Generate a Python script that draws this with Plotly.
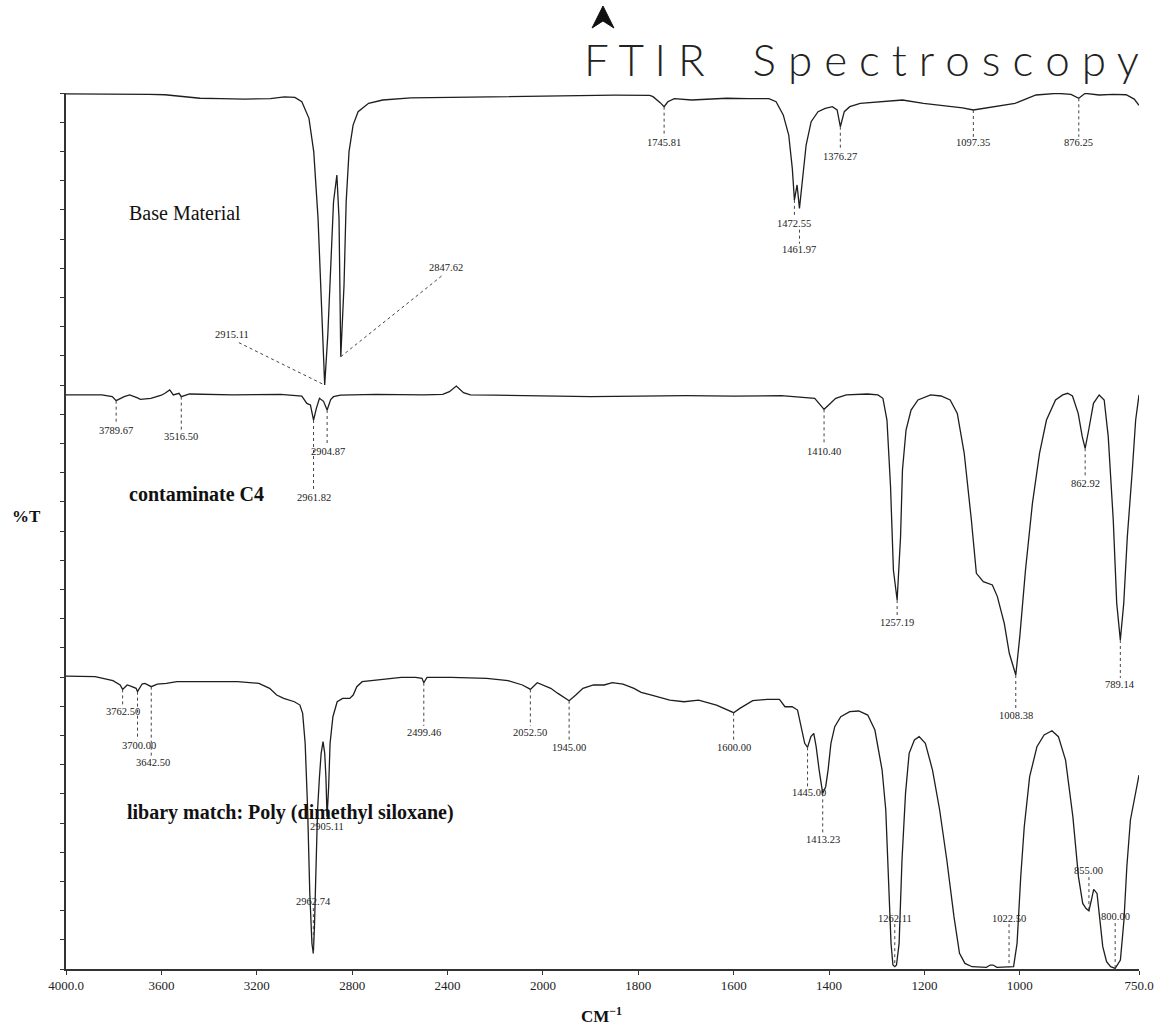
import numpy as np
import plotly.graph_objects as go


# Wavenumber axis: 4000-2000 cm-1 is drawn at half the scale of 2000-750 cm-1
def axis_pos(w):
    w = np.asarray(w, dtype=float)
    return np.where(w >= 2000, 4000 - w, 2000 + 2 * (2000 - w))


X_TICKS = [4000, 3600, 3200, 2800, 2400, 2000, 1800, 1600, 1400, 1200, 1000, 750]
X_TICK_TEXT = ["4000.0", "3600", "3200", "2800", "2400", "2000",
               "1800", "1600", "1400", "1200", "1000", "750.0"]

# ---- Base Material (offset trace, top) ----
base_wn = [4000, 3800, 3650, 3585, 3520, 3438, 3350, 3250, 3143, 3084, 3040, 3011,
           2981, 2961, 2943, 2928, 2915.11, 2902, 2893, 2878, 2864, 2855, 2847.62,
           2834, 2825, 2813, 2796, 2775, 2731, 2672, 2554, 2400, 2260, 2100, 1982,
           1850, 1776, 1769, 1754, 1745.81, 1738, 1724.5, 1688, 1650, 1614.5, 1570,
           1526, 1511, 1496, 1484.5, 1477, 1472.55, 1467, 1461.97, 1455, 1448,
           1437.5, 1423, 1408, 1393, 1383, 1376.27, 1368, 1356.5, 1334.5, 1290,
           1246, 1202, 1172.5, 1143, 1120, 1097.35, 1054.5, 1010, 966, 922, 892.5,
           876.25, 863, 833.5, 804, 777, 760, 750]
base_t = [99.9, 99.9, 99.85, 99.8, 99.6, 99.4, 99.35, 99.3, 99.35, 99.55, 99.5, 99.0,
          97.11, 93.3, 85.69, 76.18, 66.66, 72.4, 78.08, 87.59, 90.64, 85.69, 69.9,
          78.08, 87.59, 93.3, 96.34, 97.87, 98.82, 99.2, 99.45, 99.5, 99.58, 99.65, 99.7,
          99.75, 99.72, 99.58, 98.9, 98.44, 99.0, 99.35, 99.2, 99.3, 99.4, 99.35,
          99.35, 99.0, 97.5, 95.2, 91.4, 87.8, 89.5, 86.83, 90.26, 94.06,
          96.72, 97.87, 98.25, 98.44, 98.06, 96.15, 97.87, 98.44, 98.82, 99.01,
          99.2, 98.82, 98.63, 98.44, 98.3, 98.06, 98.44, 98.82, 99.77, 99.96, 99.85,
          99.39, 99.96, 99.77, 99.85, 99.8, 99.3, 98.6]

# ---- contaminate C4 (offset trace, middle) ----
cont_wn = [4000, 3850, 3806, 3789.67, 3756, 3733, 3700, 3688, 3644, 3600, 3585, 3565,
           3550, 3526, 3516.5, 3482, 3300, 3100, 3011, 2990, 2975, 2968, 2961.82,
           2950, 2937, 2920, 2904.87, 2890, 2878, 2849, 2700, 2500, 2420, 2392, 2363,
           2333, 2304, 2200, 2000, 1900, 1800, 1700, 1600, 1500, 1430, 1415.5,
           1410.4, 1400.7, 1386, 1364, 1319.5, 1297.5, 1287, 1278.5, 1271, 1265,
           1257.19, 1250, 1246, 1238.5, 1228, 1213.5, 1187, 1165, 1146, 1131,
           1116.5, 1101.5, 1091, 1076.5, 1057.5, 1047, 1032.5, 1022, 1008.38, 1000,
           988, 973.5, 958.6, 944, 925, 910, 899.7, 889.5, 877.5, 869, 862.92,
           855.5, 845.5, 833.5, 823, 814.5, 804, 796.7, 789.14, 782, 774.5, 764,
           757, 750]
cont_t = [65.53, 65.53, 65.34, 64.88, 65.34, 65.53, 65.2, 65.03, 65.15, 65.5, 65.72, 66.1,
          65.53, 65.72, 65.34, 65.64, 65.53, 65.6, 65.41, 64.57, 64.4, 63.5, 62.67,
          64.0, 65.15, 64.8, 63.81, 65.0, 65.33, 65.52, 65.6, 65.55, 65.6, 65.91, 66.55,
          65.79, 65.53, 65.5, 65.4, 65.35, 65.4, 65.45, 65.4, 65.45, 65.15, 64.19,
          63.89, 64.38, 65.15, 65.53, 65.64, 65.53, 65.15, 62.67, 55.06, 45.55,
          42.12, 49.35, 56.96, 61.53, 63.81, 64.96, 65.53, 65.41, 64.96, 63.43,
          58.87, 51.26, 45.17, 44.22, 43.84, 42.51, 39.46, 36.04, 33.56, 37.94,
          45.55, 53.16, 58.87, 62.67, 64.96, 65.53, 65.72, 65.41, 63.43, 60.77, 59.44,
          61.53, 64.57, 65.53, 64.96, 60.77, 51.26, 41.74, 37.56, 41.74, 49.35, 56.96,
          62.67, 65.53]

# ---- library match: Poly(dimethyl siloxane) (bottom) ----
pdms_wn = [4000, 3878, 3803, 3773, 3762.5, 3743.5, 3728.6, 3706, 3700, 3681, 3669,
           3646.5, 3642.5, 3617, 3579, 3534.5, 3430, 3281, 3191, 3146, 3116.5, 3087,
           3042, 3019, 3007.5, 2997, 2986.5, 2977.6, 2968.6, 2962.74, 2958, 2952,
           2945, 2937, 2930, 2922, 2915, 2910, 2905.11, 2898.5, 2892.5, 2880.6,
           2862.7, 2840, 2810, 2795.5, 2780.5, 2758, 2683.5, 2594, 2534, 2507,
           2499.46, 2486, 2385, 2235.6, 2146, 2086, 2059.5, 2052.5, 2023.6, 1998.5,
           1983.5, 1968.5, 1953.5, 1945, 1931, 1916, 1894, 1871.5, 1854.6, 1832,
           1809, 1794, 1772, 1734, 1704, 1673.5, 1636, 1613, 1600, 1587, 1560, 1530,
           1504, 1492.4, 1477.3, 1466, 1458.5, 1451, 1445, 1438, 1432, 1427, 1420.7,
           1413.23, 1407, 1402, 1396, 1388, 1375.4, 1356.6, 1337.7, 1318.8, 1303.8,
           1288.7, 1281, 1275, 1270, 1266, 1262.11, 1258.5, 1253, 1247, 1239.6, 1232,
           1221, 1211, 1198, 1183, 1168, 1153, 1138, 1126.4, 1115, 1100, 1070, 1062,
           1056, 1048, 1040, 1022.5, 1013, 1005.7, 998, 990.6, 979.3, 964, 949,
           932.5, 919, 904, 888.7, 877, 868, 861, 855, 849, 845, 838, 832, 826, 818,
           809.5, 800, 789, 781.5, 775.5, 768, 760.5, 750]
pdms_t = [33.44, 33.37, 32.91, 32.42, 31.92, 32.42, 32.3, 32.04, 31.66, 32.53, 32.61,
          32.3, 32.23, 32.53, 32.61, 32.8, 32.8, 32.8, 32.61, 32.04, 31.27, 30.89,
          30.51, 30.13, 29.18, 25.76, 18.15, 8.63, 2.93, 1.78, 4.83, 10.54,
          18.15, 21.95, 24.62, 25.95, 24.62, 21.95, 17.39, 20.81, 25.76, 28.8,
          30.51, 30.89, 30.89, 31.27, 32.23, 32.8, 33.06, 33.29, 33.29, 33.18,
          32.68, 33.29, 33.29, 33.18, 32.91, 32.42, 32.04, 31.92, 32.68, 32.42,
          32.04, 31.46, 30.89, 30.63, 31.27, 32.04, 32.42, 32.42, 32.68, 32.53,
          32.04, 31.58, 31.27, 30.7, 30.51, 30.7, 30.13, 29.56, 29.26, 29.75, 30.63, 30.78,
          30.78, 29.94, 29.94, 29.56, 27.66, 25.76, 25.3, 26.52, 26.9, 25.38, 22.71,
          20.05, 20.81, 22.71, 25.76, 27.66, 28.8, 29.37, 29.45, 28.99, 27.28,
          22.71, 18.15, 10.54, 2.93, 0.45, 0.26, 0.45, 2.93, 12.44, 20.05, 24.62,
          26.14, 26.52, 25.76, 22.71, 18.15, 12.44, 5.97, 1.78, 0.64, 0.26, 0.19, 0.45,
          0.45, 0.19, 0.19, 0.19, 0.26, 2.93, 10.54, 16.24, 21.95, 25.38, 26.71,
          27.2, 26.52, 23.85, 17.39, 10.54, 7.49, 6.9, 6.65, 8.06, 9.09, 8.63, 5.21,
          2.55, 0.83, 0.26, 0.07, 1.02, 5.59, 11.68, 17.01, 19.29, 22.14]

# Labelled peaks of each trace (cm-1)
base_peaks = [2915.11, 2847.62, 1745.81, 1472.55, 1461.97, 1376.27, 1097.35, 876.25]
cont_peaks = [3789.67, 3516.50, 2961.82, 2904.87, 1410.40, 1257.19, 1008.38, 862.92, 789.14]
pdms_peaks = [3762.50, 3700.00, 3642.50, 2962.74, 2905.11, 2499.46, 2052.50, 1945.00,
              1600.00, 1445.00, 1413.23, 1262.11, 1022.50, 855.00, 800.00]

# Where each peak label sits: label centre (wavenumber or None = at the peak, y),
# optional explicit leader start point, optional explicit leader span, or no leader.
base_label_pos = {
    2915.11: dict(at=(3305, 72.4), lead=(3275, 71.5)),
    2847.62: dict(at=(2407, 80.1), lead=(2425, 79.1)),
    1745.81: dict(at=(None, 94.3)),
    1472.55: dict(at=(None, 85.05)),
    1461.97: dict(at=(None, 82.08), span=(84.4, 82.8)),
    1376.27: dict(at=(None, 92.7)),
    1097.35: dict(at=(None, 94.3)),
    876.25: dict(at=(None, 94.3)),
}
cont_label_pos = {
    3789.67: dict(at=(None, 61.45)),
    3516.50: dict(at=(None, 60.84)),
    2961.82: dict(at=(None, 53.88)),
    2904.87: dict(at=(2902, 59.13)),
    1410.40: dict(at=(None, 59.13)),
    1257.19: dict(at=(None, 39.5)),
    1008.38: dict(at=(None, 28.9)),
    862.92: dict(at=(None, 55.48)),
    789.14: dict(at=(None, 32.53)),
}
pdms_label_pos = {
    3762.50: dict(at=(None, 29.45)),
    3700.00: dict(at=(3693, 25.46)),
    3642.50: dict(at=(3636, 23.63)),
    2962.74: dict(at=(None, 7.65)),
    2905.11: dict(at=(None, 16.3), none=True),
    2499.46: dict(at=(None, 27.05)),
    2052.50: dict(at=(None, 27.05)),
    1945.00: dict(at=(None, 25.34)),
    1600.00: dict(at=(None, 25.34)),
    1445.00: dict(at=(1441, 20.1)),
    1413.23: dict(at=(None, 14.73)),
    1262.11: dict(at=(None, 5.82)),
    1022.50: dict(at=(None, 5.82)),
    855.00: dict(at=(None, 11.19)),
    800.00: dict(at=(None, 5.94)),
}

LINE_COLOR = "#1e1e1e"
LABEL_FONT = dict(family="Liberation Serif", size=10.5, color="#222")
HALF_LABEL = 0.7

fig = go.Figure()

for wn, t in [(base_wn, base_t), (cont_wn, cont_t), (pdms_wn, pdms_t)]:
    fig.add_trace(go.Scatter(x=axis_pos(wn), y=t, mode="lines",
                             line=dict(color=LINE_COLOR, width=1.3),
                             hoverinfo="skip", showlegend=False))

lead_x, lead_y = [], []
for wn, t, peaks, pos in [(base_wn, base_t, base_peaks, base_label_pos),
                          (cont_wn, cont_t, cont_peaks, cont_label_pos),
                          (pdms_wn, pdms_t, pdms_peaks, pdms_label_pos)]:
    u = axis_pos(wn)
    order = np.argsort(u)
    u_sorted = u[order]
    t_sorted = np.asarray(t, dtype=float)[order]
    for p in peaks:
        cfg = pos[p]
        lw, ly = cfg["at"]
        lw = p if lw is None else lw
        fig.add_annotation(x=float(axis_pos(lw)), y=ly, text=f"{p:.2f}",
                           showarrow=False, font=LABEL_FONT)
        if cfg.get("none"):
            continue
        pu = float(axis_pos(p))
        cy = float(np.interp(pu, u_sorted, t_sorted))
        if "lead" in cfg:
            sw, sy = cfg["lead"]
            lead_x += [float(axis_pos(sw)), pu, None]
            lead_y += [sy, cy, None]
        elif "span" in cfg:
            y0, y1 = cfg["span"]
            lead_x += [pu, pu, None]
            lead_y += [y0, y1, None]
        elif ly < cy:
            lead_x += [pu, pu, None]
            lead_y += [cy, ly + HALF_LABEL, None]
        else:
            lead_x += [pu, pu, None]
            lead_y += [ly - HALF_LABEL, cy, None]

fig.add_trace(go.Scatter(x=lead_x, y=lead_y, mode="lines",
                         line=dict(color="#444", width=1, dash="dot"),
                         hoverinfo="skip", showlegend=False))

# Trace names
NAME_FONT = dict(family="Liberation Serif", size=20, color="#111")
fig.add_annotation(x=float(axis_pos(3500)), y=86.3, text="Base Material",
                   showarrow=False, font=NAME_FONT)
fig.add_annotation(x=float(axis_pos(3454)), y=54.2, text="<b>contaminate C4</b>",
                   showarrow=False, font=NAME_FONT)
fig.add_annotation(x=float(axis_pos(3057)), y=17.9,
                   text="<b>libary match: Poly (dimethyl siloxane)</b>",
                   showarrow=False, font=NAME_FONT)

# Heading, letter-spaced, with an arrowhead above it
NB = "\u00a0"
heading = NB.join("FTIR") + NB * 4 + NB.join("Spectroscopy")
fig.add_annotation(xref="paper", yref="paper", x=0.741, y=1.0388,
                   xanchor="center", yanchor="middle", text=heading,
                   showarrow=False,
                   font=dict(family="Lato", size=44, color="#222", weight=300))
fig.add_shape(type="path", xref="paper", yref="paper",
              path="M 0.50046 1.0993 L 0.49025 1.0742 L 0.50046 1.0822 L 0.51068 1.0742 Z",
              fillcolor="#111", line=dict(color="#111", width=1))

# Axis titles
fig.add_annotation(xref="paper", yref="paper", x=-0.037, y=0.516,
                   xanchor="center", yanchor="middle", text="<b>%T</b>",
                   showarrow=False,
                   font=dict(family="Liberation Serif", size=17, color="#111"))
fig.add_annotation(xref="paper", yref="paper", x=0.4995, y=-0.052,
                   xanchor="center", yanchor="middle",
                   text="<b>CM<sup>\u22121</sup></b>", showarrow=False,
                   font=dict(family="Liberation Serif", size=17, color="#111"))

fig.update_xaxes(range=[0, 4500], tickvals=axis_pos(X_TICKS), ticktext=X_TICK_TEXT,
                 showline=True, linecolor="#333", linewidth=1.5, mirror=False,
                 ticks="outside", ticklen=4, tickcolor="#333", tickwidth=1.2,
                 showgrid=False, zeroline=False,
                 tickfont=dict(family="Liberation Serif", size=13, color="#222"))
fig.update_yaxes(range=[0, 100], tick0=0, dtick=100 / 30, showticklabels=False,
                 showline=True, linecolor="#333", linewidth=1.5,
                 ticks="outside", ticklen=4, tickcolor="#333", tickwidth=1.2,
                 showgrid=False, zeroline=False)

fig.update_layout(width=1166, height=1026,
                  margin=dict(l=66, r=23, t=93, b=57),
                  paper_bgcolor="white", plot_bgcolor="white",
                  showlegend=False)

fig.write_html("out.html")
